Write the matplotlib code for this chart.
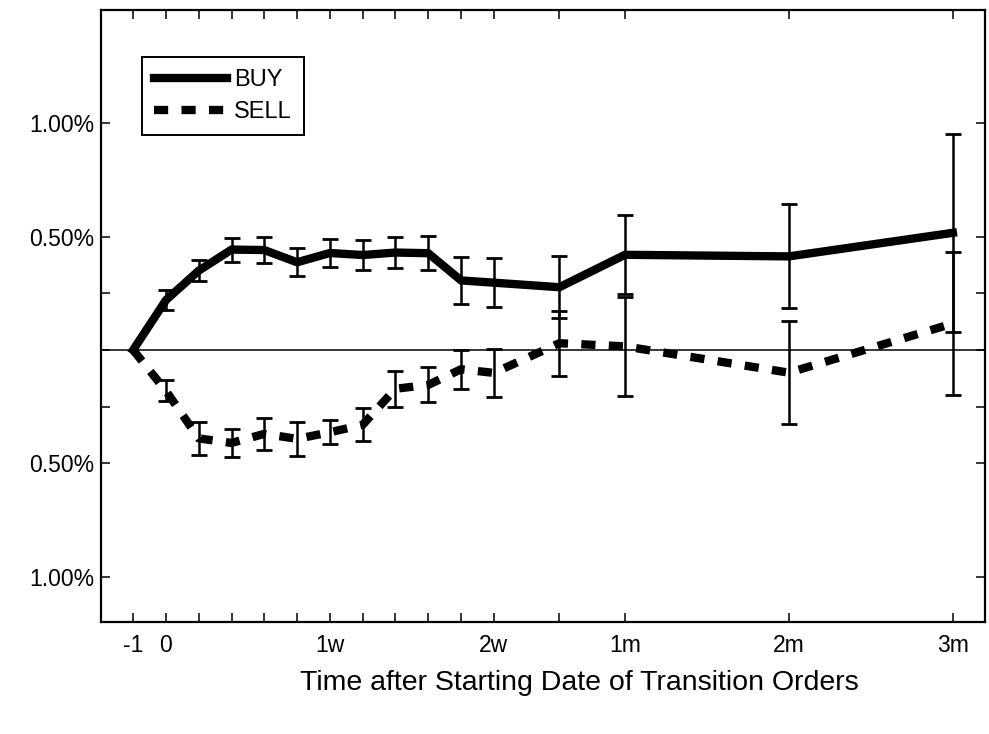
import matplotlib
matplotlib.use("Agg")
import matplotlib.pyplot as plt
from matplotlib.lines import Line2D

plt.rcParams['font.family'] = ['Liberation Sans', 'DejaVu Sans']

# ---- data (percent) ----
x_pos = [-1, 0, 1, 2, 3, 4, 5, 6, 7, 8, 9, 10, 12, 14, 19, 24]
buy = [0.0, 0.22, 0.35, 0.443, 0.441, 0.387, 0.428, 0.419, 0.43, 0.427,
       0.307, 0.297, 0.277, 0.42, 0.413, 0.517]
buy_err = [0.0, 0.044, 0.046, 0.053, 0.059, 0.061, 0.06, 0.067, 0.069, 0.076,
           0.103, 0.108, 0.136, 0.175, 0.229, 0.438]
sell = [0.0, -0.18, -0.39, -0.41, -0.37, -0.392, -0.363, -0.33, -0.171, -0.154,
        -0.085, -0.101, 0.03, 0.016, -0.10, 0.117]
sell_err = [0.0, 0.046, 0.074, 0.062, 0.069, 0.075, 0.053, 0.072, 0.08, 0.077,
            0.085, 0.105, 0.143, 0.217, 0.227, 0.316]

x_ticks = [-1, 0, 1, 2, 3, 4, 5, 6, 7, 8, 9, 10, 12, 14, 19, 24]
x_tick_labels = ['-1', '0', '', '', '', '', '1w', '', '', '', '', '2w', '', '1m', '2m', '3m']
y_ticks = [-1.0, -0.5, -0.25, 0.0, 0.25, 0.5, 1.0]
y_tick_labels = ['1.00%', '0.50%', '', '', '', '0.50%', '1.00%']
x_label = 'Time after Starting Date of Transition Orders'

fig = plt.figure(figsize=(9.89, 7.34), dpi=100)
ax = fig.add_axes([101/989, 1 - 622/734, (985-101)/989, (622-10)/734])

ax.axhline(0, color='black', lw=1.1, zorder=1)

# error bars (skip first point at -1)
ax.errorbar(x_pos[1:], buy[1:], yerr=buy_err[1:], fmt='none', ecolor='black',
            elinewidth=1.8, capsize=6, capthick=2.0, zorder=2)
ax.errorbar(x_pos[1:], sell[1:], yerr=sell_err[1:], fmt='none', ecolor='black',
            elinewidth=1.8, capsize=6, capthick=2.0, zorder=2)

ax.plot(x_pos, buy, color='black', lw=6, solid_joinstyle='miter', zorder=3)
ax.plot(x_pos, sell, color='black', lw=6, linestyle=(0, (1.7, 1.6)),
        dash_capstyle='butt', zorder=3)

ax.set_xlim(-1.98, 24.98)
ax.set_ylim(-1.2, 1.5)

ax.set_xticks(x_ticks)
ax.set_xticklabels(x_tick_labels, fontsize=16.5)
ax.set_yticks(y_ticks)
ax.set_yticklabels(y_tick_labels, fontsize=16.5)
ax.tick_params(axis='both', direction='in', top=True, right=True,
               length=6.5, width=1.1, color='black')
ax.tick_params(axis='x', pad=8.5)
ax.tick_params(axis='y', pad=5)

for s in ax.spines.values():
    s.set_linewidth(1.6)
    s.set_color('black')

fig.text(579/989, 1 - 683/734, x_label, fontsize=20.5, ha='center', va='center')

handles = [Line2D([], [], color='black', lw=6),
           Line2D([], [], color='black', lw=6, linestyle=(0, (1.7, 1.6)))]
leg = ax.legend(handles, ['BUY', 'SELL'], loc='upper left',
                bbox_to_anchor=((142-101)/884, (622-57)/612),
                fontsize=17, fancybox=False, framealpha=1, edgecolor='black',
                handlelength=3.1, handletextpad=0.3, borderpad=0.5,
                labelspacing=0.45, borderaxespad=0)
leg.get_frame().set_linewidth(1.4)

fig.savefig('out.png', dpi=100)
